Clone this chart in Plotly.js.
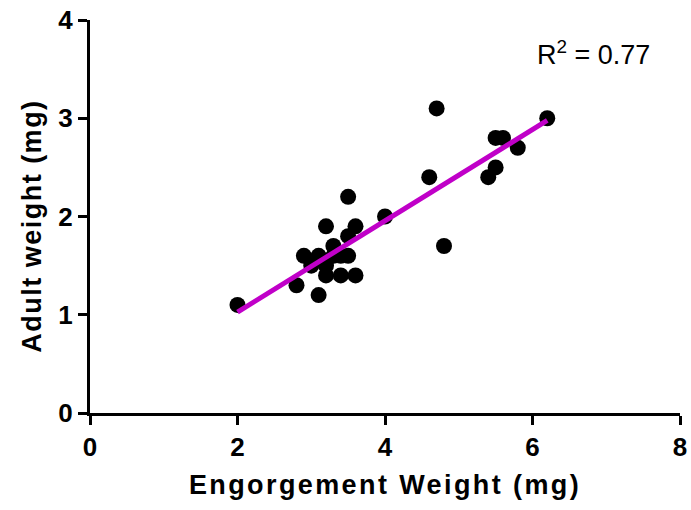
<!DOCTYPE html>
<html>
<head>
<meta charset="utf-8">
<script src="https://cdn.plot.ly/plotly-3.0.1.min.js"></script>
<style>
  html, body { margin: 0; padding: 0; background: #fff; }
  #chart { width: 691px; height: 510px; }
  #chart .xtitle { letter-spacing: 2.4px; }
  #chart .annotation.y-title text { letter-spacing: 1.5px; }
</style>
</head>
<body>
<div id="chart"></div>
<script>
// Engorgement weight vs adult weight (mg), one point per tick
const engorgementWeight = [2.0, 2.8, 2.9, 3.0, 3.1, 3.1, 3.2, 3.2, 3.2, 3.3, 3.3, 3.4, 3.4, 3.5,
                           3.5, 3.5, 3.6, 3.6, 4.0, 4.6, 4.7, 4.8, 5.4, 5.5, 5.5, 5.6, 5.8, 6.2];
const adultWeight       = [1.1, 1.3, 1.6, 1.5, 1.6, 1.2, 1.9, 1.4, 1.5, 1.7, 1.6, 1.4, 1.6, 1.6,
                           1.8, 2.2, 1.9, 1.4, 2.0, 2.4, 3.1, 1.7, 2.4, 2.5, 2.8, 2.8, 2.7, 3.0];
const xTicks = [0, 2, 4, 6, 8];
const yTicks = [0, 1, 2, 3, 4];
const rSquaredLabel = 'R<sup>2</sup> = 0.77';

// least-squares fit drawn across the observed x range
function linearFit(xs, ys) {
  const n = xs.length;
  const mx = xs.reduce((a, b) => a + b, 0) / n;
  const my = ys.reduce((a, b) => a + b, 0) / n;
  let sxy = 0, sxx = 0;
  for (let i = 0; i < n; i++) {
    sxy += (xs[i] - mx) * (ys[i] - my);
    sxx += (xs[i] - mx) * (xs[i] - mx);
  }
  const slope = sxy / sxx;
  return { slope, intercept: my - slope * mx };
}
const fit = linearFit(engorgementWeight, adultWeight);
const fitX = [Math.min(...engorgementWeight), Math.max(...engorgementWeight)];
const fitY = fitX.map(x => fit.intercept + fit.slope * x);

const font = 'Liberation Sans, Arial, sans-serif';
const bold = v => '<b>' + v + '</b>';

const traces = [
  {
    x: engorgementWeight, y: adultWeight,
    type: 'scatter', mode: 'markers',
    marker: { color: '#000', size: 16 },
    cliponaxis: false,
    hoverinfo: 'x+y'
  },
  {
    x: fitX, y: fitY,
    type: 'scatter', mode: 'lines',
    line: { color: '#c000c8', width: 5 },
    cliponaxis: false,
    hoverinfo: 'skip'
  }
];

const axisCommon = {
  showline: true, linecolor: '#000', linewidth: 3,
  ticks: 'outside', ticklen: 9, tickwidth: 3, tickcolor: '#000',
  showgrid: false, zeroline: false,
  tickfont: { family: font, size: 26, color: '#000' },
  tickmode: 'array'
};

const layout = {
  width: 691, height: 510,
  margin: { l: 90, r: 11, t: 20, b: 97 },
  paper_bgcolor: '#fff', plot_bgcolor: '#fff',
  showlegend: false,
  font: { family: font, color: '#000' },
  xaxis: Object.assign({}, axisCommon, {
    range: [0, 8], tickvals: xTicks, ticktext: xTicks.map(bold),
    title: { text: bold('Engorgement Weight (mg)'), font: { family: font, size: 27, color: '#000' }, standoff: 14 }
  }),
  yaxis: Object.assign({}, axisCommon, {
    range: [0, 4], tickvals: yTicks, ticktext: yTicks.map(bold)
  }),
  annotations: [
    {
      name: 'y-title',
      xref: 'paper', yref: 'paper',
      x: -0.097, y: 0.475, xanchor: 'center', yanchor: 'middle',
      textangle: -90,
      text: bold('Adult weight (mg)'), showarrow: false,
      font: { family: font, size: 27, color: '#000' }
    },
    {
      xref: 'paper', yref: 'paper',
      x: 0.853, y: 0.915, xanchor: 'center', yanchor: 'middle',
      text: rSquaredLabel, showarrow: false,
      font: { family: font, size: 27, color: '#000' }
    }
  ]
};

Plotly.newPlot('chart', traces, layout, { displayModeBar: false, staticPlot: true }).then(gd => {
  // widen the rotated y title slightly, like the x title
  const ann = gd.querySelectorAll('.annotation')[0];
  if (ann) ann.classList.add('y-title');
});
</script>
</body>
</html>
